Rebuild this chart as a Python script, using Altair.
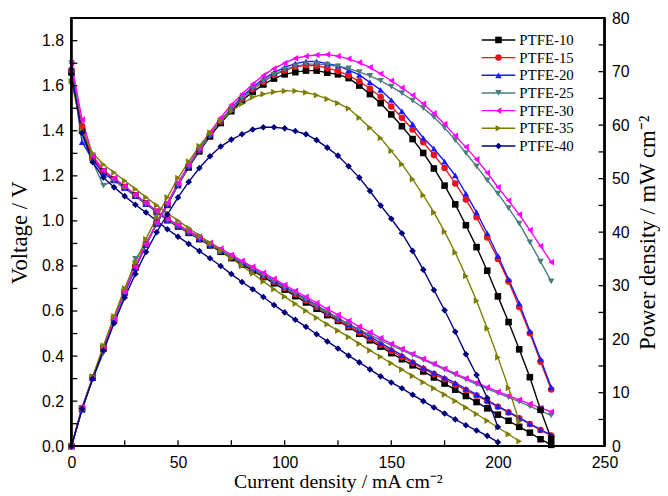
import altair as alt
import pandas as pd

series = ["PTFE-10", "PTFE-15", "PTFE-20", "PTFE-25", "PTFE-30", "PTFE-35", "PTFE-40"]
colors = ["#000000", "#e3171d", "#1a1aff", "#4a7d7d", "#ff00ff", "#7d7d00", "#00007d"]
shapes = ["square", "circle", "triangle-up", "triangle-down", "triangle-left", "triangle-right", "diamond"]

current_225 = [0, 5, 10, 15, 20, 25, 30, 35, 40, 45, 50, 55, 60, 65, 70, 75, 80, 85, 90, 95,
               100, 105, 110, 115, 120, 125, 130, 135, 140, 145, 150, 155, 160, 165, 170, 175,
               180, 185, 190, 195, 200, 205, 210, 215, 220, 225]
current_210 = current_225[:43]
current_200 = current_225[:41]

v_10 = [1.66, 1.40, 1.28, 1.22, 1.185, 1.15, 1.113, 1.077, 1.04, 1.003, 0.975, 0.947, 0.919, 0.891,
        0.863, 0.835, 0.807, 0.779, 0.751, 0.723, 0.695, 0.666, 0.638, 0.610, 0.582, 0.556, 0.529,
        0.499, 0.470, 0.442, 0.413, 0.386, 0.359, 0.332, 0.305, 0.278, 0.251, 0.223, 0.196, 0.168,
        0.140, 0.113, 0.086, 0.060, 0.031, 0.006]
p_10 = [0, 7.0, 12.8, 18.3, 23.7, 28.8, 33.4, 37.7, 41.6, 45.1, 48.8, 52.1, 55.1, 57.9, 60.4, 62.6,
        64.6, 66.2, 67.6, 68.7, 69.5, 69.9, 70.2, 70.2, 69.8, 69.5, 68.8, 67.4, 65.8, 64.1, 62.0,
        59.8, 57.4, 54.8, 51.9, 48.7, 45.2, 41.3, 37.2, 32.8, 28.0, 23.2, 18.1, 12.9, 6.8, 1.4]

v_15 = [1.67, 1.42, 1.28, 1.22, 1.185, 1.15, 1.113, 1.077, 1.041, 1.005, 0.977, 0.950, 0.922, 0.895,
        0.867, 0.840, 0.812, 0.785, 0.757, 0.730, 0.702, 0.675, 0.647, 0.618, 0.589, 0.561, 0.533,
        0.505, 0.477, 0.450, 0.423, 0.396, 0.370, 0.344, 0.320, 0.297, 0.273, 0.249, 0.225, 0.200,
        0.175, 0.150, 0.124, 0.098, 0.072, 0.047]
p_15 = [0, 7.1, 12.8, 18.3, 23.7, 28.8, 33.4, 37.7, 41.6, 45.2, 48.9, 52.3, 55.3, 58.2, 60.7, 63.0,
        65.0, 66.7, 68.1, 69.4, 70.2, 70.9, 71.2, 71.1, 70.7, 70.1, 69.3, 68.2, 66.8, 65.3, 63.5,
        61.4, 59.2, 56.8, 54.4, 52.0, 49.1, 46.1, 42.8, 39.0, 35.0, 30.8, 26.0, 21.1, 15.8, 10.6]

v_20 = [1.68, 1.35, 1.27, 1.21, 1.18, 1.145, 1.11, 1.075, 1.04, 1.005, 0.978, 0.951, 0.924, 0.897,
        0.870, 0.843, 0.816, 0.789, 0.762, 0.735, 0.708, 0.681, 0.654, 0.625, 0.596, 0.569, 0.541,
        0.514, 0.486, 0.459, 0.431, 0.404, 0.376, 0.349, 0.327, 0.304, 0.281, 0.255, 0.230, 0.204,
        0.178, 0.152, 0.127, 0.100, 0.074, 0.049]
p_20 = [0, 6.8, 12.7, 18.2, 23.6, 28.6, 33.3, 37.6, 41.6, 45.2, 48.9, 52.3, 55.4, 58.3, 60.9, 63.2,
        65.3, 67.1, 68.6, 69.8, 70.8, 71.5, 71.9, 71.9, 71.5, 71.1, 70.3, 69.4, 68.0, 66.6, 64.7,
        62.6, 60.2, 57.6, 55.6, 53.2, 50.6, 47.2, 43.7, 39.8, 35.6, 31.2, 26.7, 21.5, 16.3, 11.0]

v_25 = [1.70, 1.38, 1.26, 1.157, 1.18, 1.145, 1.11, 1.075, 1.04, 1.005, 0.978, 0.950, 0.923, 0.895,
        0.868, 0.841, 0.813, 0.786, 0.758, 0.731, 0.704, 0.676, 0.649, 0.621, 0.594, 0.568, 0.543,
        0.518, 0.494, 0.471, 0.448, 0.426, 0.404, 0.383, 0.362, 0.340, 0.318, 0.296, 0.275, 0.255,
        0.236, 0.217, 0.198, 0.177, 0.157, 0.137]
p_25 = [0, 6.9, 12.6, 17.4, 23.6, 28.6, 35.0, 37.6, 41.6, 45.2, 48.9, 52.3, 55.4, 58.2, 60.8, 63.1,
        65.0, 66.8, 68.2, 69.4, 70.4, 71.0, 71.4, 71.4, 71.3, 71.0, 70.6, 69.9, 69.2, 68.3, 67.2,
        66.0, 64.6, 63.2, 61.5, 59.5, 57.2, 54.8, 52.3, 49.7, 47.2, 44.5, 41.6, 38.1, 34.5, 30.8]

v_30 = [1.70, 1.45, 1.29, 1.225, 1.19, 1.155, 1.117, 1.08, 1.045, 1.01, 0.983, 0.956, 0.930, 0.903,
        0.877, 0.850, 0.823, 0.796, 0.770, 0.743, 0.716, 0.690, 0.663, 0.636, 0.610, 0.583, 0.557,
        0.531, 0.506, 0.480, 0.455, 0.432, 0.410, 0.388, 0.366, 0.344, 0.322, 0.302, 0.282, 0.262,
        0.242, 0.224, 0.206, 0.188, 0.170, 0.153]
p_30 = [0, 7.3, 12.9, 18.4, 23.8, 28.9, 33.5, 37.8, 41.8, 45.5, 49.2, 52.6, 55.8, 58.7, 61.4, 63.8,
        65.8, 67.7, 69.3, 70.6, 71.6, 72.5, 72.9, 73.1, 73.2, 72.9, 72.4, 71.7, 70.8, 69.6, 68.3,
        67.0, 65.6, 64.0, 62.2, 60.2, 58.0, 55.9, 53.6, 51.1, 48.4, 45.9, 43.3, 40.4, 37.4, 34.4]

v_35 = [1.62, 1.40, 1.30, 1.25, 1.215, 1.178, 1.142, 1.105, 1.069, 1.034, 1.001, 0.968, 0.935, 0.902,
        0.868, 0.834, 0.800, 0.767, 0.731, 0.697, 0.664, 0.632, 0.601, 0.570, 0.541, 0.513, 0.485,
        0.455, 0.425, 0.397, 0.368, 0.340, 0.312, 0.284, 0.257, 0.229, 0.201, 0.172, 0.143, 0.113,
        0.083, 0.053, 0.022]
p_35 = [0, 7.0, 13.0, 18.8, 24.3, 29.5, 34.3, 38.7, 42.8, 46.5, 50.1, 53.2, 56.1, 58.6, 60.8, 62.6,
        64.0, 65.2, 65.8, 66.2, 66.4, 66.4, 66.1, 65.6, 64.9, 64.1, 63.1, 61.4, 59.5, 57.6, 55.2,
        52.7, 49.9, 46.9, 43.7, 40.1, 36.2, 31.8, 27.2, 22.0, 16.6, 10.9, 4.6]

v_40 = [1.65, 1.39, 1.26, 1.193, 1.149, 1.11, 1.072, 1.037, 1.000, 0.963, 0.930, 0.898, 0.866, 0.834,
        0.800, 0.764, 0.729, 0.697, 0.662, 0.627, 0.594, 0.561, 0.530, 0.497, 0.465, 0.434, 0.402,
        0.372, 0.341, 0.310, 0.283, 0.257, 0.228, 0.200, 0.172, 0.145, 0.119, 0.093, 0.070, 0.046,
        0.018]
p_40 = [0, 7.0, 12.6, 17.9, 23.0, 27.8, 32.2, 36.3, 40.0, 43.3, 46.5, 49.4, 52.0, 54.2, 56.0, 57.3,
        58.3, 59.2, 59.6, 59.6, 59.4, 58.9, 58.3, 57.2, 55.8, 54.3, 52.3, 50.2, 47.7, 45.0, 42.5,
        39.8, 36.5, 33.0, 29.2, 25.4, 21.4, 17.2, 13.3, 9.0, 3.6]

x_label_values = [0, 50, 100, 150, 200, 250]
x_tick_values = [0, 25, 50, 75, 100, 125, 150, 175, 200, 225, 250]
v_label_values = [0, 0.2, 0.4, 0.6, 0.8, 1.0, 1.2, 1.4, 1.6, 1.8]
v_tick_values = [0, 0.1, 0.2, 0.3, 0.4, 0.5, 0.6, 0.7, 0.8, 0.9, 1.0, 1.1, 1.2, 1.3, 1.4, 1.5,
                 1.6, 1.7, 1.8]
p_label_values = [0, 10, 20, 30, 40, 50, 60, 70, 80]
p_tick_values = [0, 5, 10, 15, 20, 25, 30, 35, 40, 45, 50, 55, 60, 65, 70, 75, 80]

table = [
    ("PTFE-10", current_225, v_10, p_10),
    ("PTFE-15", current_225, v_15, p_15),
    ("PTFE-20", current_225, v_20, p_20),
    ("PTFE-25", current_225, v_25, p_25),
    ("PTFE-30", current_225, v_30, p_30),
    ("PTFE-35", current_210, v_35, p_35),
    ("PTFE-40", current_200, v_40, p_40),
]
rows = []
for name, cur, vv, pp in table:
    for i, v, p in zip(cur, vv, pp):
        rows.append({"series": name, "I": i, "V": v, "P": p})
df = pd.DataFrame(rows)
legend_df = pd.DataFrame({"series": series})

SANS = "Liberation Sans"
SERIF = "Liberation Serif"
W, H = 538, 432

xscale = alt.Scale(domain=[0, 250], nice=False, zero=False, padding=0)
vscale = alt.Scale(domain=[0, 1.9], nice=False, zero=False, padding=0)
pscale = alt.Scale(domain=[0, 80], nice=False, zero=False, padding=0)
cscale = alt.Scale(domain=series, range=colors)
sscale = alt.Scale(domain=series, range=shapes)
lscale = alt.Scale(domain=series, range=[22, 129], type="point", padding=0)

x_main = alt.Axis(values=x_label_values, ticks=False, domain=False, grid=False, labelFlush=False,
                  labelFont=SANS, labelFontSize=16, labelColor="black", labelPadding=9,
                  title="Current  density / mA cm\u207b\u00b2", titleFont=SERIF, titleFontSize=20,
                  titleFontWeight="normal", titleColor="black", titlePadding=1)
v_main = alt.Axis(orient="left", values=v_label_values, format=".1f", ticks=False, domain=False,
                  grid=False, labelFlush=False, labelFont=SANS, labelFontSize=16,
                  labelColor="black", labelPadding=8,
                  title="Voltage / V", titleFont=SERIF, titleFontSize=23, titleFontWeight="normal",
                  titleColor="black", titlePadding=10)
p_main = alt.Axis(orient="right", values=p_label_values, ticks=False, domain=False, grid=False,
                  labelFlush=False, labelFont=SANS, labelFontSize=16, labelColor="black",
                  labelPadding=7,
                  title="Power density / mW cm\u207b\u00b2", titleFont=SERIF, titleFontSize=23,
                  titleFontWeight="normal", titleColor="black", titleAngle=270,
                  titleBaseline="top", titlePadding=8)

color_enc = alt.Color("series:N", scale=cscale, legend=None)
shape_enc = alt.Shape("series:N", scale=sscale, legend=None)


def xenc(field):
    return alt.X(field, scale=xscale, axis=x_main)


base = alt.Chart(df)

v_lines = base.mark_line(strokeWidth=1.4).encode(
    x=xenc("I:Q"),
    y=alt.Y("V:Q", scale=vscale, axis=v_main),
    color=color_enc,
)
v_points = base.mark_point(filled=True, opacity=1, size=44).encode(
    x=xenc("I:Q"),
    y=alt.Y("V:Q", scale=vscale, axis=None),
    color=color_enc,
    shape=shape_enc,
)
p_lines = base.mark_line(strokeWidth=1.4).encode(
    x=xenc("I:Q"),
    y=alt.Y("P:Q", scale=pscale, axis=p_main),
    color=color_enc,
)
p_points = base.mark_point(filled=True, opacity=1, size=44).encode(
    x=xenc("I:Q"),
    y=alt.Y("P:Q", scale=pscale, axis=None),
    color=color_enc,
    shape=shape_enc,
)

# inward axis ticks
x_ticks = alt.Chart(pd.DataFrame({"I": x_tick_values})).mark_rule(color="black", strokeWidth=1.3).encode(
    x=xenc("I:Q"), y=alt.value(H), y2=alt.value(H - 6))
v_ticks = alt.Chart(pd.DataFrame({"t": v_tick_values})).mark_rule(color="black", strokeWidth=1.3).encode(
    y=alt.Y("t:Q", scale=vscale, axis=None), x=alt.value(0), x2=alt.value(6))
p_ticks = alt.Chart(pd.DataFrame({"t": p_tick_values})).mark_rule(color="black", strokeWidth=1.3).encode(
    y=alt.Y("t:Q", scale=pscale, axis=None), x=alt.value(W - 6), x2=alt.value(W))

frame = alt.Chart(legend_df).mark_rect(fillOpacity=0, stroke="black", strokeWidth=1.6).encode(
    x=alt.value(0), x2=alt.value(W), y=alt.value(0), y2=alt.value(H))

# legend (line + marker + label)
leg = alt.Chart(legend_df)
leg_lines = leg.mark_rule(strokeWidth=1.4).encode(
    y=alt.Y("series:N", scale=lscale, axis=None), x=alt.value(414), x2=alt.value(448),
    color=color_enc)
leg_points = leg.mark_point(filled=True, opacity=1, size=44).encode(
    y=alt.Y("series:N", scale=lscale, axis=None), x=alt.value(431),
    color=color_enc, shape=shape_enc)
leg_text = leg.mark_text(align="left", baseline="middle", font=SERIF, fontSize=15,
                         color="black").encode(
    y=alt.Y("series:N", scale=lscale, axis=None), x=alt.value(452), text="series:N")

chart = alt.layer(
    v_lines, v_points, p_lines, p_points, x_ticks, v_ticks, p_ticks, frame,
    leg_lines, leg_points, leg_text
).resolve_scale(
    y="independent"
).properties(
    width=W, height=H,
    padding={"left": 0, "top": 0, "right": 0, "bottom": 0},
).configure_view(
    stroke=None
)

chart.save("out.html", embed_options={"renderer": "svg", "actions": False})
